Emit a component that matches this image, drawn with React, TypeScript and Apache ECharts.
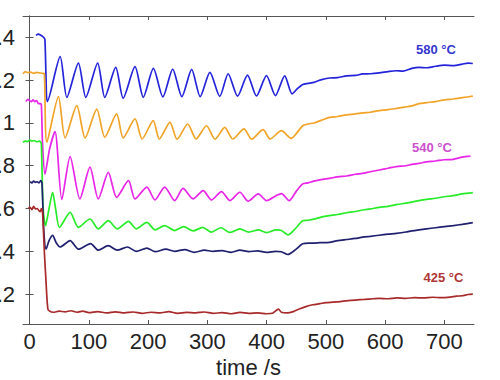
import React, { useEffect, useRef } from "react";
import * as echarts from "echarts";

const xTicks = [0, 100, 200, 300, 400, 500, 600, 700];
const yTicks = [0.2, 0.4, 0.6, 0.8, 1.0, 1.2, 1.4];
const xName = "time /s";

const s580: [number, number][] = [
  [11, 1.41], [15, 1.415], [19, 1.41], [22, 1.405], [24, 1.4], [26, 1.39], [28, 1.2], [30, 1.1],
  [51.7, 1.31], [63, 1.12], [82.5, 1.28], [95, 1.12], [115, 1.28], [127, 1.12], [145.5, 1.26],
  [158, 1.116], [178, 1.263], [192, 1.12], [209, 1.255], [225, 1.122], [241.6, 1.252], [257, 1.123],
  [273.6, 1.25], [288, 1.123], [304.4, 1.236], [321, 1.124], [335.2, 1.23], [351, 1.125],
  [367.8, 1.224], [383, 1.126], [399.8, 1.221], [415, 1.128], [430.6, 1.22], [443, 1.136],
  [452, 1.16], [461, 1.18], [470, 1.185], [480, 1.19], [490, 1.2], [506, 1.21], [520, 1.212],
  [535, 1.22], [550, 1.222], [562, 1.229], [575, 1.23], [590, 1.234], [605, 1.24], [618, 1.244],
  [630, 1.242], [645, 1.255], [657, 1.26], [670, 1.258], [685, 1.265], [700, 1.27], [715, 1.268],
  [730, 1.275], [740, 1.28], [748, 1.278],
];

const s560: [number, number][] = [
  [-11, 1.23], [-7, 1.24], [-3, 1.235], [2, 1.238], [7, 1.232], [12, 1.236], [17, 1.234], [22, 1.232],
  [25, 1.23], [29.3, 0.91], [48.8, 1.123], [60, 0.93], [79.8, 1.081], [93.8, 0.93], [113.5, 1.065],
  [127, 0.933], [147, 1.042], [158, 0.93], [178, 1.019], [190, 0.925], [208.7, 1.011], [219, 0.925],
  [237, 1.003], [249, 0.924], [267, 0.995], [281, 0.925], [298.6, 0.987], [313, 0.924],
  [329.5, 0.979], [343, 0.925], [362, 0.972], [375, 0.924], [394, 0.969], [406, 0.925],
  [425, 0.964], [441.7, 0.928], [450, 0.95], [461, 0.987], [470, 0.995], [480, 1.0], [492, 1.012],
  [506, 1.026], [520, 1.03], [535, 1.038], [550, 1.042], [562, 1.047], [575, 1.05], [590, 1.058],
  [605, 1.062], [619, 1.068], [635, 1.075], [645, 1.08], [657, 1.09], [670, 1.095], [685, 1.1],
  [700, 1.108], [715, 1.112], [730, 1.118], [748, 1.125],
];

const s540: [number, number][] = [
  [-6, 1.1], [-3, 1.11], [0, 1.105], [3, 1.1], [6, 1.108], [9, 1.1], [12, 1.105], [15, 1.09],
  [18, 1.09], [20, 1.085], [22, 0.9], [26, 0.76], [34, 0.88], [43, 0.96], [54.5, 0.642],
  [68.5, 0.843], [85, 0.645], [102, 0.793], [116, 0.645], [133, 0.769], [147, 0.652], [167, 0.73],
  [178, 0.645], [198, 0.7], [211.6, 0.64], [228, 0.7], [245, 0.637], [259, 0.694], [276, 0.645],
  [293, 0.684], [307, 0.64], [324, 0.679], [338, 0.637], [355, 0.676], [369, 0.634], [386, 0.668],
  [400, 0.637], [416, 0.66], [425, 0.67], [438, 0.637], [450, 0.68], [461, 0.715], [470, 0.72],
  [480, 0.728], [492, 0.735], [506, 0.741], [520, 0.748], [535, 0.752], [550, 0.76], [562, 0.764],
  [575, 0.772], [590, 0.78], [605, 0.788], [619, 0.796], [635, 0.8], [645, 0.806], [657, 0.811],
  [670, 0.818], [685, 0.822], [700, 0.828], [715, 0.83], [730, 0.84], [744, 0.845],
];

const s500: [number, number][] = [
  [-11, 0.91], [-7, 0.915], [-3, 0.913], [0, 0.92], [4, 0.915], [8, 0.918], [12, 0.912], [16, 0.915],
  [19, 0.91], [20, 0.9], [23, 0.6], [27, 0.52], [33, 0.6], [39, 0.676], [44, 0.6], [50.5, 0.512],
  [68.5, 0.582], [82.5, 0.512], [102, 0.551], [116, 0.505], [133, 0.543], [148, 0.505], [167, 0.54],
  [180, 0.505], [198, 0.535], [212, 0.5], [228, 0.52], [245, 0.497], [260, 0.515], [276, 0.495],
  [292, 0.512], [307, 0.49], [323, 0.51], [338, 0.488], [355, 0.505], [370, 0.49], [386, 0.5],
  [400, 0.487], [416, 0.5], [425, 0.497], [436, 0.477], [450, 0.51], [461, 0.543], [470, 0.545],
  [480, 0.55], [492, 0.56], [506, 0.567], [520, 0.572], [535, 0.58], [550, 0.586], [562, 0.593],
  [575, 0.598], [590, 0.605], [605, 0.61], [619, 0.618], [635, 0.625], [645, 0.63], [657, 0.637],
  [670, 0.643], [685, 0.648], [700, 0.655], [715, 0.66], [730, 0.668], [748, 0.674],
];

const s470: [number, number][] = [
  [1, 0.726], [4, 0.72], [7, 0.728], [10, 0.722], [13, 0.725], [16, 0.72], [19, 0.73], [21, 0.72],
  [24, 0.5], [28, 0.41], [33, 0.45], [39, 0.474], [45, 0.44], [51.7, 0.42], [68.5, 0.45],
  [82.5, 0.41], [103, 0.436], [116, 0.405], [133, 0.426], [148, 0.405], [165, 0.42], [180, 0.4],
  [198, 0.415], [212, 0.398], [230, 0.41], [245, 0.4], [262, 0.408], [278, 0.395], [295, 0.405],
  [310, 0.4], [325, 0.403], [340, 0.395], [355, 0.405], [370, 0.398], [385, 0.402], [400, 0.395],
  [415, 0.4], [425, 0.398], [436, 0.385], [450, 0.41], [461, 0.435], [475, 0.438], [490, 0.44],
  [506, 0.442], [520, 0.45], [535, 0.455], [550, 0.46], [562, 0.466], [575, 0.47], [590, 0.475],
  [605, 0.48], [619, 0.484], [635, 0.49], [645, 0.495], [657, 0.5], [670, 0.505], [685, 0.51],
  [700, 0.515], [715, 0.52], [730, 0.526], [748, 0.534],
];

const s425: [number, number][] = [
  [-2, 0.6], [1, 0.605], [4, 0.595], [7, 0.61], [10, 0.598], [13, 0.6], [16, 0.59], [18, 0.585],
  [20, 0.6], [22, 0.58], [25, 0.4], [28, 0.25], [31, 0.13], [35, 0.118], [40, 0.115], [50, 0.12],
  [60, 0.117], [70, 0.122], [80, 0.115], [90, 0.12], [100, 0.113], [115, 0.118], [130, 0.112],
  [145, 0.117], [160, 0.112], [175, 0.116], [190, 0.11], [205, 0.115], [220, 0.112], [235, 0.118],
  [250, 0.11], [265, 0.114], [280, 0.112], [295, 0.116], [310, 0.11], [325, 0.113], [340, 0.108],
  [355, 0.114], [370, 0.11], [385, 0.112], [400, 0.108], [410, 0.11], [420, 0.13], [425, 0.115],
  [435, 0.112], [445, 0.118], [455, 0.13], [465, 0.14], [478, 0.15], [490, 0.155], [500, 0.16],
  [512, 0.162], [525, 0.165], [534, 0.168], [550, 0.172], [565, 0.175], [580, 0.178], [590, 0.18],
  [605, 0.178], [620, 0.182], [635, 0.18], [650, 0.183], [665, 0.182], [680, 0.185], [695, 0.183],
  [710, 0.186], [720, 0.19], [730, 0.192], [740, 0.198], [748, 0.2],
];

const seriesList = [
  { name: "580 °C", data: s580, color: "#2323dc" },
  { name: "560 °C", data: s560, color: "#f2a428" },
  { name: "540 °C", data: s540, color: "#e825e8" },
  { name: "500 °C", data: s500, color: "#28ec28" },
  { name: "470 °C", data: s470, color: "#202070" },
  { name: "425 °C", data: s425, color: "#a82a2a" },
];

const FONT = '"Liberation Sans", Arial, Helvetica, sans-serif';
const AXIS_COLOR = "#555";

export default function App() {
  const ref = useRef<HTMLDivElement>(null);
  useEffect(() => {
    if (!ref.current) return;
    const chart = echarts.init(ref.current, undefined, { renderer: "svg" });
    const xBase = {
      type: "value" as const,
      min: -11,
      max: 750,
      splitLine: { show: false },
      axisLine: { show: true, lineStyle: { color: AXIS_COLOR, width: 1 } },
      axisTick: { show: true, inside: true, length: 4, customValues: xTicks, lineStyle: { color: AXIS_COLOR } },
    };
    const yBase = {
      type: "value" as const,
      min: 0.06,
      max: 1.5,
      splitLine: { show: false },
      axisLine: { show: true, lineStyle: { color: AXIS_COLOR, width: 1 } },
      axisTick: { show: true, inside: true, length: 4, customValues: yTicks, lineStyle: { color: AXIS_COLOR } },
    };
    chart.setOption({
      animation: false,
      backgroundColor: "#ffffff",
      grid: { left: 23, top: 16, width: 451, height: 308, containLabel: false, outerBoundsMode: "none" },
      xAxis: [
        {
          ...xBase,
          position: "bottom",
          name: xName,
          nameLocation: "middle",
          nameGap: 27,
          nameTextStyle: { fontFamily: FONT, fontSize: 22, color: "#222" },
          axisLabel: {
            customValues: xTicks,
            fontFamily: FONT,
            fontSize: 22,
            color: "#222",
            margin: 6,
          },
        },
        { ...xBase, position: "top", axisLabel: { show: false } },
      ],
      yAxis: [
        {
          ...yBase,
          position: "left",
          axisLabel: {
            customValues: yTicks,
            fontFamily: FONT,
            fontSize: 22,
            color: "#222",
            margin: 8,
            formatter: (v: number) => (Math.abs(v - 1) < 1e-9 ? "1" : v.toFixed(1)),
          },
        },
        { ...yBase, position: "right", axisLabel: { show: false } },
      ],
      series: seriesList.map((s) => ({
        type: "line",
        name: s.name,
        data: s.data,
        xAxisIndex: 0,
        yAxisIndex: 0,
        showSymbol: false,
        smooth: 0.25,
        lineStyle: { color: s.color, width: 1.7 },
        itemStyle: { color: s.color },
      })),
      graphic: [
        {
          type: "text",
          x: 436,
          y: 49.5,
          style: {
            text: "580 °C",
            fill: "#3535d0",
            font: `bold 13px ${FONT}`,
            align: "center",
            verticalAlign: "middle",
            textAlign: "center",
            textVerticalAlign: "middle",
          },
        },
        {
          type: "text",
          x: 432,
          y: 147,
          style: {
            text: "540 °C",
            fill: "#cc50cc",
            font: `bold 13px ${FONT}`,
            align: "center",
            verticalAlign: "middle",
            textAlign: "center",
            textVerticalAlign: "middle",
          },
        },
        {
          type: "text",
          x: 443.5,
          y: 277,
          style: {
            text: "425 °C",
            fill: "#b03535",
            font: `bold 13px ${FONT}`,
            align: "center",
            verticalAlign: "middle",
            textAlign: "center",
            textVerticalAlign: "middle",
          },
        },
      ],
    });
    return () => chart.dispose();
  }, []);
  return (
    <div
      ref={ref}
      style={{ position: "fixed", left: 0, top: 0, width: 500, height: 380, background: "#fff" }}
    />
  );
}
